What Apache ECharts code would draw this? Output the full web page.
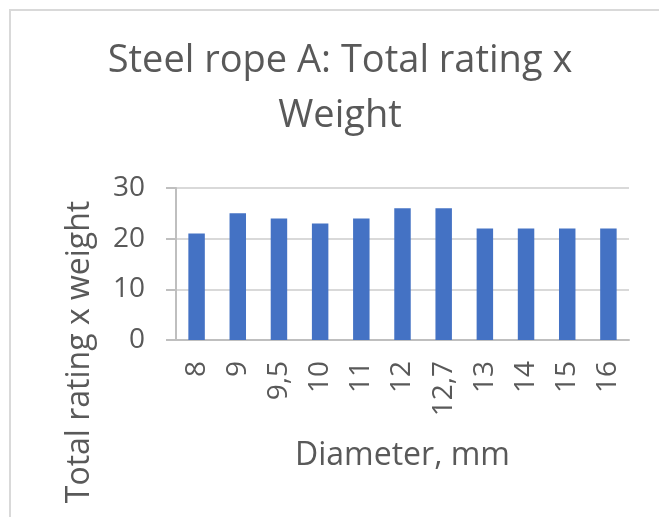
<!DOCTYPE html>
<html>
<head>
<meta charset="utf-8">
<title>Steel rope A: Total rating x Weight</title>
<script src="https://cdn.jsdelivr.net/npm/echarts@6/dist/echarts.min.js"></script>
<style>
  html, body { margin: 0; padding: 0; background: #ffffff; }
  #chart { width: 659px; height: 517px; }
</style>
</head>
<body>
<div id="chart"></div>
<script>
// Rope diameters (mm) and the combined rating x weight score for each
const diameters = ['8', '9', '9,5', '10', '11', '12', '12,7', '13', '14', '15', '16'];
const ratingWeight = [21, 25, 24, 23, 24, 26, 26, 22, 22, 22, 22];
const yTicks = { min: 0, max: 30, step: 10 };

const FONT = '"Open Sans", "Noto Sans", sans-serif';
const TEXT = '#595959';

const chart = echarts.init(document.getElementById('chart'), null, { renderer: 'canvas' });

chart.setOption({
  backgroundColor: '#ffffff',
  animation: false,
  title: {
    text: 'Steel rope A: Total rating x\nWeight',
    // centred on the middle of the framed chart area
    left: 340,
    textAlign: 'center',
    top: 34,
    padding: 0,
    textStyle: {
      fontFamily: FONT,
      fontSize: 38,
      fontWeight: 'normal',
      lineHeight: 55,
      color: TEXT
    }
  },
  grid: { left: 176, right: 30, top: 188, bottom: 177, containLabel: false },
  xAxis: {
    type: 'category',
    data: diameters,
    name: 'Diameter, mm',
    nameLocation: 'middle',
    nameGap: 100,
    nameTextStyle: { fontFamily: FONT, fontSize: 32, color: TEXT },
    axisLine: { show: true, lineStyle: { color: '#bfbfbf', width: 2 } },
    axisTick: { show: false },
    axisLabel: {
      rotate: 90,
      margin: 21,
      interval: 0,
      fontFamily: FONT,
      fontSize: 28,
      color: TEXT
    }
  },
  yAxis: {
    type: 'value',
    min: yTicks.min,
    max: yTicks.max,
    interval: yTicks.step,
    axisLine: { show: true, lineStyle: { color: '#bfbfbf', width: 2 } },
    axisTick: { show: true, inside: false, length: 10, lineStyle: { color: '#bfbfbf', width: 2 } },
    axisLabel: { margin: 31, fontFamily: FONT, fontSize: 28, color: TEXT },
    splitLine: { show: true, lineStyle: { color: '#d9d9d9', width: 2 } }
  },
  series: [{
    type: 'bar',
    data: ratingWeight,
    barWidth: '40%',
    itemStyle: { color: '#4472c4' }
  }],
  graphic: [
    {
      // chart-area frame
      type: 'rect',
      shape: { x: 10, y: 10, width: 700, height: 560 },
      style: { fill: 'none', stroke: '#d9d9d9', lineWidth: 2 },
      silent: true
    },
    {
      type: 'text',
      x: 80,
      y: 352,
      rotation: Math.PI / 2,
      style: {
        text: 'Total rating x weight',
        fontFamily: FONT,
        fontSize: 32,
        fill: TEXT,
        align: 'center',
        verticalAlign: 'middle'
      }
    }
  ]
});
</script>
</body>
</html>
